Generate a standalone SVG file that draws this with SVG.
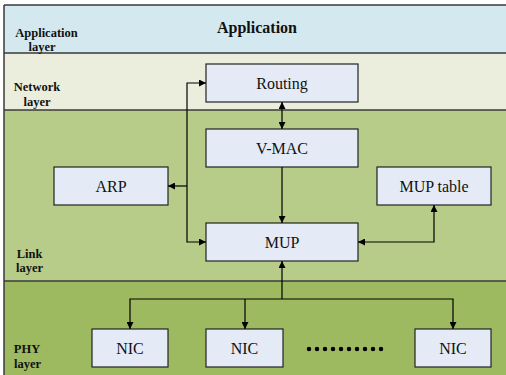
<svg xmlns="http://www.w3.org/2000/svg" width="506" height="375" viewBox="0 0 506 375">
<defs>
<marker id="ah" viewBox="0 0 10 10" refX="10" refY="5" markerWidth="7" markerHeight="7" markerUnits="userSpaceOnUse" orient="auto-start-reverse">
<path d="M0,0 L10,5 L0,10 z" fill="#000"/>
</marker>
<style>
.band{stroke:none}
.sep{stroke:#3a3a3a;stroke-width:1.5;fill:none}
.box{fill:#e4ebf6;stroke:#222;stroke-width:1.2}
text{font-family:'Liberation Serif','DejaVu Serif','Times New Roman',serif}
.lbl{font-size:16px;fill:#111;text-anchor:middle}
.lay{font-size:12.5px;font-weight:bold;fill:#111;text-anchor:middle}
.c{stroke:#000;stroke-width:1.2;fill:none}
</style>
</defs>
<rect width="506" height="375" fill="#fff"/>
<g id="layers">
<rect class="band" x="4" y="5" width="502" height="48" fill="#d3e9ef"/>
<rect class="band" x="4" y="53" width="502" height="57" fill="#ebeedd"/>
<rect class="band" x="4" y="110" width="502" height="171" fill="#b7cc89"/>
<rect class="band" x="4" y="281" width="502" height="94" fill="#9eba60"/>
<line class="sep" x1="4" y1="5" x2="506" y2="5"/>
<line class="sep" x1="4" y1="53" x2="506" y2="53"/>
<line class="sep" x1="4" y1="110" x2="506" y2="110"/>
<line class="sep" x1="4" y1="281" x2="506" y2="281"/>
<line class="sep" x1="4" y1="5" x2="4" y2="375"/>
<text class="lay" x="46.5" y="36.5">Application</text>
<text class="lay" x="42" y="51">layer</text>
<text class="lay" x="37" y="91">Network</text>
<text class="lay" x="37" y="105.5">layer</text>
<text class="lay" x="29.5" y="257.5">Link</text>
<text class="lay" x="29.5" y="272">layer</text>
<text class="lay" x="27" y="352.5">PHY</text>
<text class="lay" x="27.5" y="368">layer</text>
</g>
<g id="application">
<text x="257" y="33" font-size="16" font-weight="bold" fill="#111" text-anchor="middle">Application</text>
</g>
<g id="routing"><rect class="box" x="206" y="64" width="152" height="38"/><text class="lbl" x="282" y="89">Routing</text></g>
<g id="vmac"><rect class="box" x="206" y="129" width="152" height="38"/><text class="lbl" x="282" y="154">V-MAC</text></g>
<g id="arp"><rect class="box" x="54" y="167" width="114" height="38"/><text class="lbl" x="111" y="192">ARP</text></g>
<g id="muptable"><rect class="box" x="377" y="167" width="114" height="38"/><text class="lbl" x="434" y="192">MUP table</text></g>
<g id="mup"><rect class="box" x="206" y="223" width="152" height="38"/><text class="lbl" x="282" y="248">MUP</text></g>
<g id="nic1"><rect class="box" x="92" y="329" width="76" height="38"/><text class="lbl" x="130" y="354">NIC</text></g>
<g id="nic2"><rect class="box" x="206" y="329" width="77" height="38"/><text class="lbl" x="244.5" y="354">NIC</text></g>
<g id="nic3"><rect class="box" x="415" y="329" width="76" height="38"/><text class="lbl" x="453" y="354">NIC</text></g>
<g id="ellipsis"><line x1="309" y1="349" x2="389" y2="349" stroke="#000" stroke-width="4.5" stroke-linecap="round" stroke-dasharray="0 8"/></g>
<g id="connectors">
<polyline class="c" points="206,242 187,242 187,83 206,83" marker-start="url(#ah)" marker-end="url(#ah)"/>
<line class="c" x1="187" y1="186" x2="168" y2="186" marker-end="url(#ah)"/>
<line class="c" x1="282" y1="102" x2="282" y2="129" marker-start="url(#ah)" marker-end="url(#ah)"/>
<line class="c" x1="282" y1="167" x2="282" y2="223" marker-end="url(#ah)"/>
<polyline class="c" points="358,242 434,242 434,205" marker-start="url(#ah)" marker-end="url(#ah)"/>
<line class="c" x1="282" y1="299" x2="282" y2="261" marker-end="url(#ah)"/>
<polyline class="c" points="130,329 130,299 453,299 453,329" marker-start="url(#ah)" marker-end="url(#ah)"/>
<line class="c" x1="245" y1="299" x2="245" y2="329" marker-end="url(#ah)"/>
</g>
</svg>
